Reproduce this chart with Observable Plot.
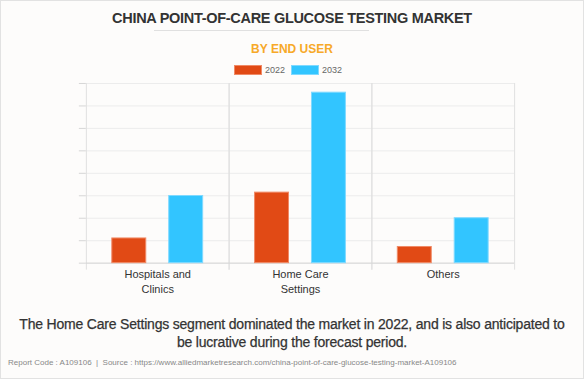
<!DOCTYPE html>
<html><head><meta charset="utf-8">
<script src="https://cdn.jsdelivr.net/npm/d3@7"></script>
<script src="https://cdn.jsdelivr.net/npm/@observablehq/plot@0.6"></script>
<style>
html,body{margin:0;padding:0;}
body{width:584px;height:379px;overflow:hidden;font-family:"Liberation Sans",Arial,sans-serif;}
#wrap{position:relative;width:582px;height:377px;border:1px solid #e2e2e2;background:#fdfcfb;}
.abs{position:absolute;}
#title{top:9px;left:0;width:582px;text-align:center;font-weight:bold;font-size:14.5px;color:#333;letter-spacing:-0.3px;}
#rule{top:29px;left:153px;width:215px;height:1px;background:#e0e0e0;}
#sub{top:41px;left:0;width:582px;text-align:center;font-weight:bold;font-size:12px;color:#f7a928;}
#legend{top:64px;left:233px;font-size:9px;color:#666;display:flex;align-items:center;}
.sw{width:28px;height:10px;display:inline-block;margin-right:3px;}
#chart{top:69px;left:-1px;}
#cap{top:315px;left:14px;width:554px;text-align:center;font-size:14px;color:#333;line-height:17.5px;letter-spacing:-0.2px;-webkit-text-stroke:0.25px #333;}
#foot{top:357px;left:7px;font-size:8px;color:#888;}
</style></head>
<body><div id="wrap">
<div id="title" class="abs"></div>
<div id="rule" class="abs"></div>
<div id="sub" class="abs"></div>
<div id="legend" class="abs"></div>
<div id="chart" class="abs"></div>
<div id="cap" class="abs"></div>
<div id="foot" class="abs"></div>
</div>
<script>
const titleText = "CHINA POINT-OF-CARE GLUCOSE TESTING MARKET";
const subtitleText = "BY END USER";
const captionText = "The Home Care Settings segment dominated the market in 2022, and is also anticipated to be lucrative during the forecast period.";
const footText = "Report Code : A109106  |  Source : https://www.alliedmarketresearch.com/china-point-of-care-glucose-testing-market-A109106";
const categories = ["Hospitals and\nClinics", "Home Care\nSettings", "Others"];
const years = ["2022", "2032"];
const values2022 = [1.1, 3.14, 0.72];
const values2032 = [2.99, 7.59, 2.0];
const yTicks = [0, 1, 2, 3, 4, 5, 6, 7, 8];
const colors = ["#e14a15", "#32c5ff"];
const strokes = ["#f08a66", "#7fd9ff"];

document.getElementById("title").textContent = titleText;
document.getElementById("sub").textContent = subtitleText;
document.getElementById("cap").textContent = captionText;
document.getElementById("foot").textContent = footText.replace(/  /g, "\u00a0 ");
const leg = document.getElementById("legend");
years.forEach((y, i) => {
  const s = document.createElement("span"); s.className = "sw"; s.style.background = colors[i];
  s.style.boxShadow = "inset 0 0 0 1px " + strokes[i];
  const t = document.createElement("span"); t.textContent = y; t.style.marginRight = i === 0 ? "6px" : "0";
  leg.appendChild(s); leg.appendChild(t);
});

const data = [];
categories.forEach((c, i) => {
  data.push({cat: c, year: years[0], value: values2022[i]});
  data.push({cat: c, year: years[1], value: values2032[i]});
});

const chart = Plot.plot({
  width: 584, height: 231,
  marginLeft: 85, marginRight: 69, marginTop: 13, marginBottom: 38,
  style: {background: "transparent", fontFamily: "Liberation Sans, Arial, sans-serif"},
  fx: {domain: categories, padding: 0, axis: null, label: null},
  x: {domain: years, paddingInner: 0.4035, paddingOuter: 0.456, axis: null, label: null},
  y: {domain: [0, 8], axis: null, label: null},
  color: {domain: years, range: colors},
  marks: [
    Plot.gridY(yTicks, {stroke: "#ececec", strokeOpacity: 1, strokeWidth: 1}),
    Plot.axisY(yTicks, {tickSize: 7, tickFormat: () => "", stroke: "#d6d6d6", strokeOpacity: 1, label: null}),
    Plot.frame({anchor: "left", stroke: "#e0e0e0", insetBottom: -6}),
    Plot.frame({anchor: "right", stroke: "#e0e0e0", insetBottom: -6}),
    Plot.ruleY([0], {stroke: "#d6d6d6"}),
    Plot.barY(data, {fx: "cat", x: "year", y: "value", fill: "year",
      stroke: d => strokes[years.indexOf(d.year)], strokeWidth: 1}),
    Plot.axisFx({anchor: "bottom", tickSize: 0, tickPadding: 4, fontSize: 11, fill: "#333", lineHeight: 1.4, textAnchor: "middle", label: null})
  ]
});
document.getElementById("chart").appendChild(chart);
</script>
</body></html>
